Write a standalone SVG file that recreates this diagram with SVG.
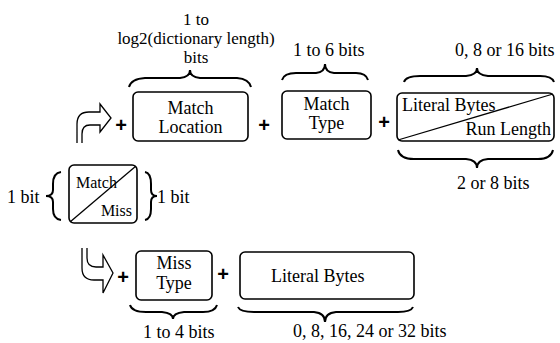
<svg xmlns="http://www.w3.org/2000/svg" width="560" height="343" viewBox="0 0 560 343">
<style>
.box{fill:#fff;stroke:#000;stroke-width:1.6}
.ln{fill:none;stroke:#000;stroke-width:1.3}
.br{fill:none;stroke:#000;stroke-width:2}
.t{font-family:"Liberation Serif","Times New Roman",serif;font-size:18px;fill:#000}
.s{font-size:16px}
.h{font-size:17px}
.m{text-anchor:middle}
.e{text-anchor:end}
.p{font-family:"Liberation Sans",Arial,sans-serif;font-size:20px;font-weight:bold;text-anchor:middle;fill:#000}
</style>
<rect width="560" height="343" fill="#fff"/>
<g id="connectors">
  <path class="ln" d="M77,143 L77,124 Q77,112 89,112 L100,112 L100,104 L111,118 L100,132 L100,125 L90,125 Q82,125 82,134 L82,143"/>
  <path class="ln" d="M82,248 L82,268 Q82,280 94,280 L103,280 L103,293 L113,273 L103,255 L103,267 L96,267 Q87,267 87,258 L87,248"/>
  <text class="p" x="121" y="132">+</text>
  <text class="p" x="264" y="132">+</text>
  <text class="p" x="384" y="129">+</text>
  <text class="p" x="123" y="284">+</text>
  <text class="p" x="223" y="281">+</text>
</g>
<g id="braces">
  <path class="br" d="M129,87 Q131,79 145,78 L180,78 Q190,77 190,70 Q190,77 200,78 L237,78 Q249,79 251,87"/>
  <path class="br" d="M282,80 Q284,73 296,73 L316,73 Q325,72 325,64 Q325,72 334,73 L356,73 Q366,73 368,80"/>
  <path class="br" d="M404,82 Q406,76 420,76 L466,76 Q477,75 477,68 Q477,75 488,76 L540,76 Q552,76 554,82"/>
  <path class="br" d="M398,150 Q400,159 414,159 L466,159 Q477,160 477,168 Q477,160 488,159 L538,159 Q551,159 553,150"/>
  <path class="br" d="M130,305 Q132,312 146,312 L162,312 Q173,313 173,319 Q173,313 184,312 L203,312 Q215,312 217,305"/>
  <path class="br" d="M238,307 Q240,312 254,312 L314,312 Q325,313 325,322 Q325,313 336,312 L398,312 Q411,312 413,307"/>
  <path class="br" d="M61,172 Q53,173 53,184 L53,190 Q53,196 46,196 Q53,196 53,202 L53,209 Q53,219 61,220"/>
  <path class="br" d="M145,172 Q151,173 151,184 L151,190 Q151,196 157,196 Q151,196 151,202 L151,209 Q151,219 145,220"/>
</g>
<g id="match-location">
  <rect class="box" x="133" y="92" width="115" height="49" rx="5"/>
  <text class="t m" x="190.5" y="114">Match</text>
  <text class="t m" x="190.5" y="133">Location</text>
</g>
<g id="match-type">
  <rect class="box" x="282" y="91" width="89" height="48" rx="5"/>
  <text class="t m" x="326.5" y="110">Match</text>
  <text class="t m" x="326.5" y="129">Type</text>
</g>
<g id="literal-run">
  <rect class="box" x="397" y="93" width="157" height="48" rx="5"/>
  <line class="ln" x1="398" y1="140" x2="553" y2="94"/>
  <text class="t" x="402" y="111">Literal Bytes</text>
  <text class="t e" x="551" y="135">Run Length</text>
</g>
<g id="match-miss">
  <rect class="box" x="69" y="165" width="68" height="58" rx="5"/>
  <line class="ln" x1="70" y1="222" x2="136" y2="166"/>
  <text class="t s" x="76" y="188">Match</text>
  <text class="t s e" x="132" y="216">Miss</text>
</g>
<g id="miss-type">
  <rect class="box" x="136" y="251" width="76" height="49" rx="5"/>
  <text class="t m" x="174" y="269">Miss</text>
  <text class="t m" x="174" y="289">Type</text>
</g>
<g id="literal-bytes">
  <rect class="box" x="240" y="252" width="174" height="47" rx="5"/>
  <text class="t" x="271" y="282">Literal Bytes</text>
</g>
<g id="labels">
  <text class="t h m" x="196" y="25">1 to</text>
  <text class="t h m" x="196" y="44">log2(dictionary length)</text>
  <text class="t h m" x="196" y="63">bits</text>
  <text class="t" x="293" y="56">1 to 6 bits</text>
  <text class="t" x="455" y="56">0, 8 or 16 bits</text>
  <text class="t" x="457" y="189">2 or 8  bits</text>
  <text class="t" x="7" y="203">1 bit</text>
  <text class="t" x="157" y="203">1 bit</text>
  <text class="t" x="143" y="338">1 to 4  bits</text>
  <text class="t" x="293" y="337">0, 8, 16, 24 or 32 bits</text>
</g>
</svg>
